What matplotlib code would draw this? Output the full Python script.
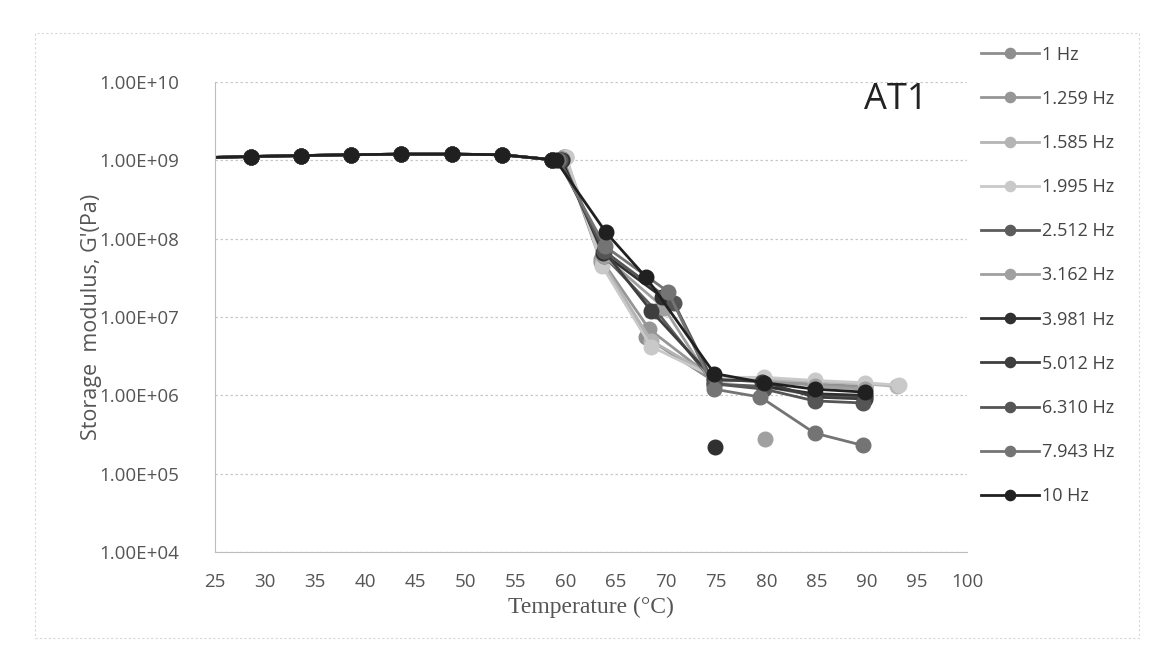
import numpy as np
import matplotlib
matplotlib.use("Agg")
import matplotlib.pyplot as plt
from matplotlib.ticker import FuncFormatter, FixedLocator
from matplotlib.patches import Rectangle

# frequencies and grey shades of the scanned legend
freqs = ["1 Hz", "1.259 Hz", "1.585 Hz", "1.995 Hz", "2.512 Hz", "3.162 Hz",
         "3.981 Hz", "5.012 Hz", "6.310 Hz", "7.943 Hz", "10 Hz"]
shades = ["#8e8e8e", "#969696", "#b4b4b4", "#c9c9c9", "#5c5c5c", "#a0a0a0",
          "#303030", "#3e3e3e", "#555555", "#747474", "#202020"]

# glassy plateau, same for every frequency
t_plateau = [23.6, 28.6, 33.6, 38.6, 43.6, 48.6, 53.6, 58.6]
g_plateau = [1.08e9, 1.12e9, 1.15e9, 1.18e9, 1.2e9, 1.2e9, 1.18e9, 1.02e9]

# transition + rubbery region, one list per frequency (nan = gap)
t_tail = [
    [59.8, 63.5, 68.0, 74.8, 79.8, 84.8, 89.8],
    [59.8, 63.5, 68.3, 74.8, 79.8, 84.8, 89.8],
    [60.0, 63.6, 68.5, 74.8, 79.8, 84.8, 89.8, 93.0],
    [60.0, 63.6, 68.5, 74.8, 79.8, 84.8, 89.8, 93.2],
    [59.6, 63.8, 69.0, 74.8, 79.8, 84.8, 89.8],
    [59.6, 63.8, 69.8, 74.8, np.nan, 79.9, np.nan, 84.8, 89.8],
    [59.6, 63.7, 69.6, np.nan, 74.9, np.nan, 79.8, 84.8, 89.8],
    [59.4, 63.8, 68.5, 74.8, 79.6, 84.8, 89.8],
    [59.4, 63.8, 70.8, 74.8, 79.8, 84.8, 89.6],
    [59.2, 63.9, 70.2, 74.8, 79.4, 84.8, 89.6],
    [59.0, 64.0, 68.0, 74.8, 79.8, 84.8, 89.8],
]
g_tail = [
    [1.10e9, 5.0e7, 5.5e6, 1.5e6, 1.6e6, 1.4e6, 1.3e6],
    [1.10e9, 5.5e7, 7.0e6, 1.6e6, 1.5e6, 1.35e6, 1.25e6],
    [1.10e9, 5.0e7, 5.0e6, 1.7e6, 1.6e6, 1.5e6, 1.4e6, 1.3e6],
    [1.10e9, 4.5e7, 4.2e6, 1.7e6, 1.7e6, 1.55e6, 1.45e6, 1.35e6],
    [1.05e9, 6.0e7, 1.2e7, 1.4e6, 1.3e6, 1.0e6, 0.95e6],
    [1.05e9, 6.0e7, 1.3e7, 1.3e6, np.nan, 2.8e5, np.nan, 1.3e6, 1.2e6],
    [1.00e9, 6.5e7, 1.8e7, np.nan, 2.2e5, np.nan, 1.3e6, 1.05e6, 1.0e6],
    [1.00e9, 7.0e7, 1.2e7, 1.6e6, 1.5e6, 0.95e6, 0.9e6],
    [1.00e9, 7.0e7, 1.5e7, 1.4e6, 1.2e6, 0.85e6, 0.8e6],
    [1.00e9, 8.0e7, 2.1e7, 1.2e6, 0.95e6, 3.3e5, 2.3e5],
    [1.00e9, 1.2e8, 3.2e7, 1.9e6, 1.45e6, 1.2e6, 1.1e6],
]

x_ticks = list(range(25, 101, 5))
y_ticks = [1e4, 1e5, 1e6, 1e7, 1e8, 1e9, 1e10]

fig = plt.figure(figsize=(11.51, 6.51), dpi=100)
ax = fig.add_axes([215 / 1151, 0.152, 752 / 1151, 0.722])

for name, col, tt, gg in zip(freqs, shades, t_tail, g_tail):
    t = np.array(t_plateau + tt, dtype=float)
    g = np.array(g_plateau + gg, dtype=float)
    ax.plot(t, g, color=col, lw=2.0, marker="o", ms=10.5, label=name)

ax.set_yscale("log")
ax.set_xlim(25, 100)
ax.set_ylim(1e4, 1e10)
ax.xaxis.set_major_locator(FixedLocator(x_ticks))
ax.yaxis.set_major_locator(FixedLocator(y_ticks))
ax.yaxis.set_minor_locator(FixedLocator([]))
ax.yaxis.set_major_formatter(FuncFormatter(lambda v, p: f"{v:.2E}"))
ax.tick_params(length=0, labelsize=13.5, labelcolor="#555555")
ax.tick_params(axis="y", pad=26)
ax.tick_params(axis="x", pad=15)
for lab in ax.get_xticklabels() + ax.get_yticklabels():
    lab.set_family("Open Sans")

ax.grid(axis="y", color="#c8c8c8", ls=(0, (2, 2)), lw=0.9)
for s in ["top", "right"]:
    ax.spines[s].set_visible(False)
for s in ["left", "bottom"]:
    ax.spines[s].set_color("#bdbdbd")

ax.set_xlabel("Temperature (°C)", family="Liberation Serif", fontsize=17,
              color="#555555", labelpad=4)
ax.set_ylabel("Storage  modulus, G'(Pa)", family="Open Sans", fontsize=15.5,
              color="#555555", labelpad=-2)
ax.text(0.905, 0.962, "AT1", transform=ax.transAxes, ha="center", va="center",
        fontsize=26, family="Open Sans", color="#222222")

fig.legend(loc="upper left", bbox_to_anchor=(0.838, 0.955), frameon=False,
           labelspacing=1.45, handlelength=3.2, handletextpad=0.2,
           markerscale=0.7, labelcolor="#444444",
           prop={"family": "Open Sans", "size": 13})

fig.patches.append(Rectangle((0.03, 0.02), 0.96, 0.93, transform=fig.transFigure,
                             fill=False, ec="#d8d8d8", lw=0.8, ls=(0, (2, 2))))

fig.savefig("out.png", dpi=100)
